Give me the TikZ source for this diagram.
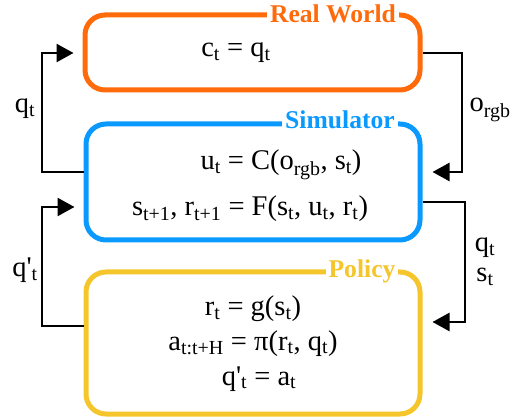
\documentclass[tikz,border=0pt]{standalone}
\usepackage{fontspec}
\setmainfont{Liberation Serif}
\usetikzlibrary{arrows.meta}
\definecolor{rworange}{HTML}{FF6A0A}
\definecolor{simblue}{HTML}{0A99FF}
\definecolor{polyellow}{HTML}{F4C62C}
\newcommand{\sbs}[1]{\textsubscript{#1}}
\newcommand{\qpr}{q\textquotesingle}
\begin{document}
\begin{tikzpicture}[x=1pt,y=-1pt,
  box/.style={draw=#1, line width=5pt, rounded corners=20pt, fill=white, inner sep=0pt},
  body/.style={anchor=base, inner sep=0pt, font=\fontsize{28.5}{32}\selectfont},
  title/.style={anchor=base, fill=white, text=#1, inner xsep=3pt, inner ysep=1pt, font=\fontsize{25.6}{29}\selectfont\bfseries},
  arr/.style={draw=black, line width=2.5pt, -{Triangle[length=17pt,width=18pt]}, shorten >=#1},
  arr/.default=10pt
]
\useasboundingbox (0,0) rectangle (519,419);
% boxes
\node[box=rworange, minimum width=335pt, minimum height=75pt] (rw) at (252.5,52.5) {};
\node[box=simblue, minimum width=334pt, minimum height=116pt] (sim) at (253,182) {};
\node[box=polyellow, minimum width=334pt, minimum height=142pt] (pol) at (253,343) {};
% titles
\node[title=rworange] (rwt) at (333,23) {Real World};
\node[title=simblue] (simt) at (340,129) {Simulator};
\node[title=polyellow] (polt) at (362,278) {Policy};
% body texts
\node[body] (rw1) at (236,57) {c\sbs{t} = q\sbs{t}};
\node[body] (sim1) at (281,170) {u\sbs{t} = C(o\sbs{rgb}, s\sbs{t})};
\node[body] (sim2) at (250,216) {s\sbs{t+1}, r\sbs{t+1} = F(s\sbs{t}, u\sbs{t}, r\sbs{t})};
\node[body] (pol1) at (253,316) {r\sbs{t} = g(s\sbs{t})};
\node[body] (pol2) at (253,350) {a\sbs{t:t+H} = π(r\sbs{t}, q\sbs{t})};
\node[body] (pol3) at (259,385) {\qpr\sbs{t} = a\sbs{t}};
% connector labels
\node[body] (lq1) at (25,113) {q\sbs{t}};
\node[body] (lorgb) at (490,112) {o\sbs{rgb}};
\node[body] (lq2) at (25,277) {\qpr\sbs{t}};
\node[body] (lq3) at (485,252) {q\sbs{t}};
\node[body] (ls3) at (485,282) {s\sbs{t}};
% connectors
\draw[arr=9pt] (sim.west |- 0,172) -- (42,172) -- (42,53) -- (rw.west |- 0,53);
\draw[arr=10pt] (rw.east |- 0,53) -- (462,53) -- (462,172) -- (sim.east |- 0,172);
\draw[arr=9pt] (pol.west |- 0,326) -- (42,326) -- (42,207) -- (sim.west |- 0,207);
\draw[arr=10pt] (sim.east |- 0,202) -- (465,202) -- (465,322) -- (pol.east |- 0,322);
\end{tikzpicture}
\end{document}
